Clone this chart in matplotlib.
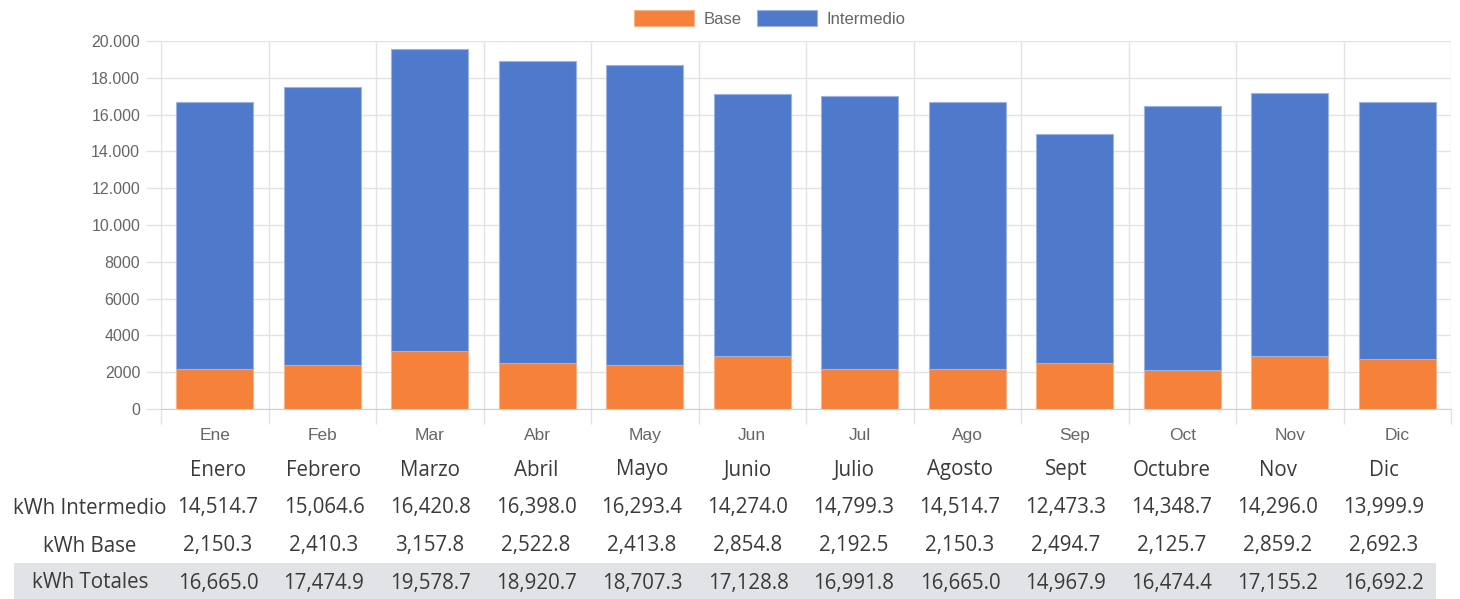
import matplotlib
matplotlib.use('Agg')
import matplotlib.pyplot as plt
from matplotlib.ticker import FuncFormatter, FixedLocator
from matplotlib.patches import Rectangle

# Chart data (kWh per month).
short_months = ['Ene', 'Feb', 'Mar', 'Abr', 'May', 'Jun', 'Jul', 'Ago', 'Sep', 'Oct', 'Nov', 'Dic']
table_months = ['Enero', 'Febrero', 'Marzo', 'Abril', 'Mayo', 'Junio', 'Julio', 'Agosto', 'Sept',
                'Octubre', 'Nov', 'Dic']
kwh_intermedio = [14514.7, 15064.6, 16420.8, 16398.0, 16293.4, 14274.0, 14799.3, 14514.7, 12473.3,
                  14348.7, 14296.0, 13999.9]
kwh_base = [2150.3, 2410.3, 3157.8, 2522.8, 2413.8, 2854.8, 2192.5, 2150.3, 2494.7, 2125.7,
            2859.2, 2692.3]
kwh_totales = [16665.0, 17474.9, 19578.7, 18920.7, 18707.3, 17128.8, 16991.8, 16665.0, 14967.9,
               16474.4, 17155.2, 16692.2]
row_labels = ['kWh Intermedio', 'kWh Base', 'kWh Totales']

orange = '#F5813A'
blue = '#4F79CB'
grid_color = '#e3e3e3'
W, H = 1460, 599

fig = plt.figure(figsize=(W / 100, H / 100), dpi=100)
ax = fig.add_axes([161 / W, 1 - 409 / H, (1451 - 161) / W, (409 - 41) / H])

x = list(range(len(short_months)))
ax.bar(x, kwh_base, width=0.72, color=orange, edgecolor='#f9b48a', linewidth=0.8, label='Base', zorder=3)
ax.bar(x, kwh_intermedio, width=0.72, bottom=kwh_base, color=blue, edgecolor='#9db4e3', linewidth=0.8,
       label='Intermedio', zorder=3)

ax.set_xlim(-0.5, len(x) - 0.5)
ax.set_ylim(0, 20000)
ax.set_yticks(range(0, 20001, 2000))


def fmt(v, pos):
    v = int(v)
    if v >= 10000:
        return f'{v:,}'.replace(',', '.')
    return str(v)


ax.yaxis.set_major_formatter(FuncFormatter(fmt))
ax.set_xticks(x)
ax.set_xticklabels(short_months)
ax.xaxis.set_minor_locator(FixedLocator([i - 0.5 for i in range(len(x) + 1)]))

ax.grid(True, axis='y', which='major', color=grid_color, linewidth=1, zorder=0)
ax.grid(True, axis='x', which='minor', color=grid_color, linewidth=1, zorder=0)
ax.tick_params(axis='x', which='major', length=0, pad=14, labelsize=12.5, labelcolor='#666666')
ax.tick_params(axis='x', which='minor', length=11, color=grid_color, width=1)
ax.tick_params(axis='y', length=11, color=grid_color, width=1, pad=4, labelsize=11.5, labelcolor='#666666')
for lbl in ax.get_xticklabels() + ax.get_yticklabels():
    lbl.set_fontfamily('Liberation Sans')

for side in ['top', 'right']:
    ax.spines[side].set_visible(False)
ax.spines['left'].set_color(grid_color)
ax.spines['bottom'].set_color('#cfcfcf')

leg = fig.legend(loc='upper center', bbox_to_anchor=(770 / W, 1 + 5 / H), ncol=2, frameon=False,
                 handlelength=3.6, handleheight=1.1, handletextpad=0.6, columnspacing=0.9,
                 prop={'family': 'Liberation Sans', 'size': 12})
for t in leg.get_texts():
    t.set_color('#666666')

# Table below the chart.
fig.patches.append(Rectangle((14 / W, 0), (1436 - 14) / W, (599 - 563) / H, transform=fig.transFigure,
                             facecolor='#e2e3e6', edgecolor='none', zorder=0))
tfont = {'family': 'Open Sans', 'size': 14.8, 'color': '#3a3a3a'}
col_x = [218 + 106 * i for i in range(len(table_months))]
for i, m in enumerate(table_months):
    fig.text(col_x[i] / W, 1 - 470 / H, m, ha='center', va='center', **tfont)
rows = [kwh_intermedio, kwh_base, kwh_totales]
row_y = [508, 546, 583]
for label, vals, y in zip(row_labels, rows, row_y):
    fig.text(90 / W, 1 - y / H, label, ha='center', va='center', **tfont)
    for i, v in enumerate(vals):
        fig.text(col_x[i] / W, 1 - y / H, f'{v:,.1f}', ha='center', va='center', **tfont)

fig.savefig('out.png', dpi=100)
